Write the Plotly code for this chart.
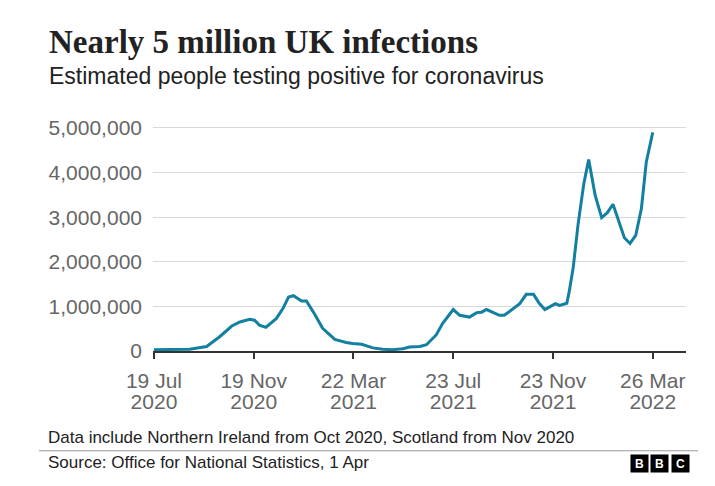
import plotly.graph_objects as go

# ---- data ----
dates = [
    "2020-07-19", "2020-08-14", "2020-09-01", "2020-09-22", "2020-10-08", "2020-10-23",
    "2020-11-02", "2020-11-14", "2020-11-20", "2020-11-26", "2020-12-04", "2020-12-17",
    "2020-12-25", "2021-01-01", "2021-01-07", "2021-01-17", "2021-01-23", "2021-02-02",
    "2021-02-12", "2021-02-27", "2021-03-13", "2021-03-21", "2021-04-01", "2021-04-15",
    "2021-04-27", "2021-05-09", "2021-05-22", "2021-05-30", "2021-06-12", "2021-06-20",
    "2021-07-02", "2021-07-10", "2021-07-17", "2021-07-23", "2021-07-31", "2021-08-12",
    "2021-08-21", "2021-08-27", "2021-09-02", "2021-09-10", "2021-09-18", "2021-09-24",
    "2021-10-05", "2021-10-13", "2021-10-21", "2021-10-30", "2021-11-06", "2021-11-13",
    "2021-11-20", "2021-11-26", "2021-12-01", "2021-12-10", "2021-12-13", "2021-12-18",
    "2021-12-24", "2021-12-31", "2022-01-06", "2022-01-14", "2022-01-22", "2022-01-29",
    "2022-02-05", "2022-02-12", "2022-02-19", "2022-02-26", "2022-03-05", "2022-03-12",
    "2022-03-18", "2022-03-26",
]
infections = [
    30000, 30000, 40000, 100000, 320000, 560000,
    650000, 710000, 690000, 580000, 530000, 730000,
    950000, 1210000, 1240000, 1120000, 1120000, 830000,
    510000, 260000, 190000, 170000, 150000, 70000,
    40000, 30000, 50000, 90000, 100000, 140000,
    360000, 620000, 800000, 930000, 800000, 760000,
    860000, 870000, 930000, 860000, 800000, 800000,
    950000, 1060000, 1270000, 1270000, 1070000, 930000,
    1000000, 1060000, 1020000, 1070000, 1330000, 1880000,
    2850000, 3750000, 4290000, 3490000, 2990000, 3100000,
    3290000, 2890000, 2540000, 2410000, 2590000, 3190000,
    4230000, 4900000,
]
x_tick_vals = ["2020-07-19", "2020-11-19", "2021-03-22", "2021-07-23", "2021-11-23", "2022-03-26"]
x_tick_months = ["19 Jul", "19 Nov", "22 Mar", "23 Jul", "23 Nov", "26 Mar"]
x_tick_years = ["2020", "2020", "2021", "2021", "2021", "2022"]
y_tick_vals = [0, 1000000, 2000000, 3000000, 4000000, 5000000]

title = "Nearly 5 million UK infections"
subtitle = "Estimated people testing positive for coronavirus"
footnote = "Data include Northern Ireland from Oct 2020, Scotland from Nov 2020"
source = "Source: Office for National Statistics, 1 Apr"

# ---- layout geometry (screen pixels; page body adds an 8px offset) ----
W, H = 715, 486
OFF = 8
L, R, T, B = 153, 686, 119, 351.5


def px(x):
    return (x - L) / (R - L)


def py(y):
    return (B - y) / (B - T)


SANS = "Liberation Sans, Arial, sans-serif"
SERIF = "Liberation Serif, Times New Roman, serif"
GREY = "#666666"
XRANGE = ["2020-07-17 20:00", "2022-05-06 00:00"]

fig = go.Figure()
fig.add_trace(go.Scatter(
    x=dates, y=infections, mode="lines",
    line=dict(color="#1380a1", width=3),
    hoverinfo="skip",
))
# invisible trace so the year-label axis is drawn
fig.add_trace(go.Scatter(
    x=[dates[0]], y=[infections[0]], xaxis="x2", mode="markers",
    marker=dict(opacity=0), hoverinfo="skip", showlegend=False,
))

fig.update_layout(
    width=W, height=H,
    margin=dict(l=L - OFF, r=W - (R - OFF), t=T - OFF, b=H - (B - OFF)),
    paper_bgcolor="white", plot_bgcolor="white",
    showlegend=False,
    font=dict(family=SANS, color=GREY),
    xaxis=dict(
        type="date", range=XRANGE,
        tickvals=x_tick_vals, ticktext=x_tick_months,
        tickfont=dict(size=21, color=GREY, family=SANS),
        showgrid=False, zeroline=False,
        showline=True, linecolor="#333333", linewidth=2,
        ticks="outside", ticklen=6, tickwidth=1.5, tickcolor="#333333",
        ticklabelstandoff=4,
    ),
    xaxis2=dict(
        type="date", range=XRANGE, overlaying="x", side="bottom",
        tickvals=x_tick_vals, ticktext=x_tick_years,
        tickfont=dict(size=21, color=GREY, family=SANS),
        showgrid=False, zeroline=False, showline=False, ticks="",
        ticklabelstandoff=36,
    ),
    yaxis=dict(
        range=[0, 5200000],
        tickvals=y_tick_vals, tickformat=",",
        tickfont=dict(size=21, color=GREY, family=SANS),
        showgrid=True, gridcolor="#d9d9d9", gridwidth=1,
        zeroline=False, showline=False, ticks="",
        ticklabelstandoff=10,
    ),
)

ann = []
ann.append(dict(text="<b>" + title + "</b>", x=px(47), y=py(42), xref="paper", yref="paper",
                xanchor="left", yanchor="middle", showarrow=False,
                font=dict(family=SERIF, size=33, color="#222222")))
ann.append(dict(text=subtitle, x=px(47), y=py(76), xref="paper", yref="paper",
                xanchor="left", yanchor="middle", showarrow=False,
                font=dict(family=SANS, size=23, color="#222222")))
ann.append(dict(text=footnote, x=px(46), y=py(438), xref="paper", yref="paper",
                xanchor="left", yanchor="middle", showarrow=False,
                font=dict(family=SANS, size=17, color="#222222")))
ann.append(dict(text=source, x=px(46), y=py(463), xref="paper", yref="paper",
                xanchor="left", yanchor="middle", showarrow=False,
                font=dict(family=SANS, size=17, color="#222222")))
for cx, letter in zip([639, 659.5, 680], ["B", "B", "C"]):
    ann.append(dict(text="<b>" + letter + "</b>", x=px(cx), y=py(464), xref="paper", yref="paper",
                    xanchor="center", yanchor="middle", showarrow=False,
                    width=17, height=17, bgcolor="#000000", borderpad=0,
                    font=dict(family=SANS, size=12, color="#ffffff")))
fig.update_layout(annotations=ann)

fig.add_shape(type="line", xref="paper", yref="paper",
              x0=px(39), x1=px(698), y0=py(451.5), y1=py(451.5),
              line=dict(color="#999999", width=1))

fig.write_html("out.html")
